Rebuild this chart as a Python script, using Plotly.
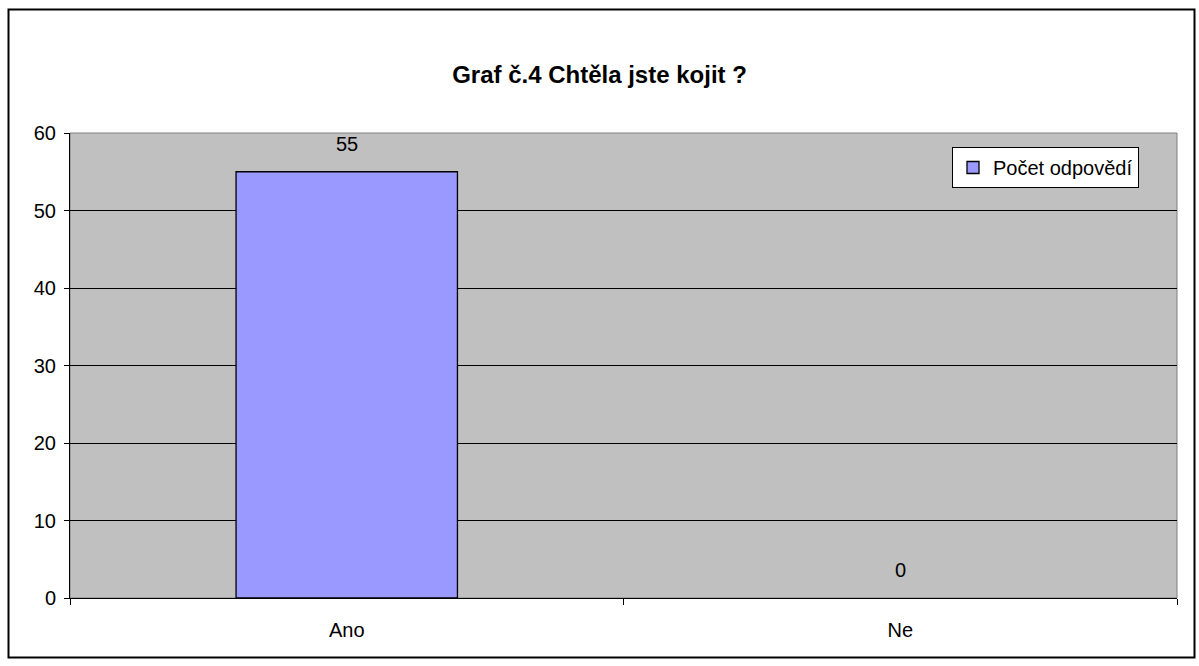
import plotly.graph_objects as go

categories = ["Ano", "Ne"]
values = [55, 0]
series_name = "Počet odpovědí"
title_text = "Graf č.4 Chtěla jste kojit ?"
y_ticks = [0, 10, 20, 30, 40, 50, 60]

W, H = 1199, 666
L, R, T, B = 70, 1177, 133, 598
pw, ph = R - L, B - T

def px(x):
    return (x - L) / pw

def py(y):
    return (B - y) / ph

font = "Liberation Sans, Arial, sans-serif"
fs = 20

fig = go.Figure()
fig.add_trace(go.Bar(
    x=categories, y=values, name=series_name,
    marker=dict(color="#9999FF",
                line=dict(color="black", width=[1.3 if v > 0 else 0 for v in values])),
    width=0.4, showlegend=True,
))

for c, v in zip(categories, values):
    fig.add_annotation(x=c, y=v, text=str(v), showarrow=False,
                       yanchor="bottom", yshift=15,
                       font=dict(family=font, size=fs, color="black"))

fig.update_layout(
    width=W, height=H,
    margin=dict(l=L, r=W - R, t=T, b=H - B),
    paper_bgcolor="white", plot_bgcolor="#C0C0C0",
    font=dict(family=font, size=fs, color="black"),
    title=dict(text="<b>" + title_text + "</b>", x=0.5, xanchor="center",
               y=1 - 75 / H, yanchor="middle",
               font=dict(family=font, size=24, color="black")),
    legend=dict(x=px(952), y=py(147), xanchor="left", yanchor="top",
                bgcolor="white", bordercolor="black", borderwidth=1,
                font=dict(family=font, size=fs, color="black"),
                itemwidth=30),
    showlegend=True,
    xaxis=dict(showline=True, linecolor="black", linewidth=1,
               ticks="outside", tickson="boundaries", ticklen=6,
               tickcolor="black", ticklabelstandoff=14,
               showgrid=False, zeroline=False, fixedrange=True),
    yaxis=dict(range=[0, 60], tickvals=y_ticks, showline=True,
               linecolor="black", linewidth=1, ticks="outside", ticklen=5,
               tickcolor="black", showgrid=True, gridcolor="black",
               gridwidth=1, zeroline=False, ticklabelstandoff=4),
    shapes=[
        dict(type="rect", xref="paper", yref="paper",
             x0=0, x1=1, y0=0, y1=1,
             line=dict(color="#808080", width=1), layer="below"),
        dict(type="rect", xref="paper", yref="paper",
             x0=px(8.5), x1=px(1194.5), y0=py(657.5), y1=py(9.5),
             line=dict(color="black", width=2)),
    ],
)

fig.write_html("out.html")
